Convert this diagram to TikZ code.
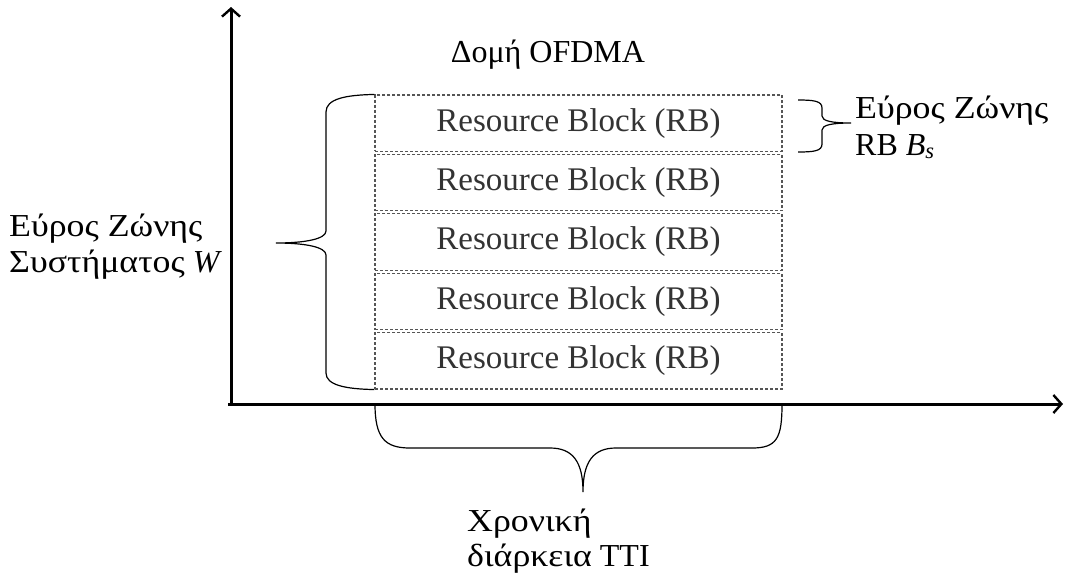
\documentclass[tikz,border=0pt]{standalone}
\usepackage{fontspec}
\setmainfont{Liberation Serif}
\newfontfamily\gr[FakeStretch=1.12]{Liberation Serif}
\usetikzlibrary{arrows.meta}
\definecolor{rbtext}{HTML}{333333}
\definecolor{rbedge}{HTML}{555555}
\begin{document}
\begin{tikzpicture}[x=1pt,y=-1pt,
  rbbox/.style={draw=rbedge, dash pattern=on 3pt off 2pt, line width=1.1pt,
    minimum width=407pt, minimum height=56.4pt, inner sep=0pt,
    font=\fontsize{33}{38}\selectfont, text=rbtext},
  axis/.style={line width=3pt, -{Straight Barb[length=8pt,width=18pt,line width=2.4pt]}},
  brace/.style={line width=1.2pt},
  lbl/.style={font=\fontsize{32}{37}\selectfont, inner sep=0pt}]
\useasboundingbox (0,0) rectangle (1065,576);

% axes
\coordinate (xstart) at (228,404);
\coordinate (xend) at (1063,404);
\coordinate (ystart) at (231,405.5);
\coordinate (yend) at (231,7);
\draw[axis] (xstart) -- (xend);
\draw[axis] (ystart) -- (yend);

% stacked resource blocks
\foreach \i in {1,...,5} {
  \node[rbbox] (rb\i) at (578.5, {123.2+(\i-1)*59.4}) {Resource Block (RB)};
}

% title
\node[lbl, anchor=base] (title) at (548,62) {Δομή OFDMA};

% system bandwidth brace
\draw[brace] (rb1.north west) .. controls (345,95) and (326,99) .. (326,112)
  -- (326,231) .. controls (326,239) and (305,243) .. (276,243)
  .. controls (305,243) and (326,247) .. (326,255)
  -- (326,373) .. controls (326,385) and (345,389) .. (rb5.south west);
\node[lbl, anchor=base west] (wl1) at (9,236) {\gr Εύρος Ζώνης};
\node[lbl, anchor=base west] (wl2) at (9,272) {{\gr Συστήματος} \textit{W}};

% RB bandwidth brace
\coordinate (bs1) at (798,100);
\coordinate (bs2) at (798,152);
\draw[brace] (bs1) .. controls (814,100) and (822,101) .. (822,108)
  -- (822,116) .. controls (822,121) and (832,123) .. (851,123)
  .. controls (832,123) and (822,125) .. (822,130)
  -- (822,144) .. controls (822,151) and (814,152) .. (bs2);
\node[lbl, anchor=base west] (bl1) at (855,118) {\gr Εύρος Ζώνης};
\node[lbl, anchor=base west] (bl2) at (855,155) {RB \textit{B}\textsubscript{\textit{s}}};

% TTI brace
\coordinate (t1) at (375,404);
\coordinate (t2) at (782,404);
\draw[brace] (t1) .. controls (375,438) and (385,448) .. (410,448)
  -- (550,448) .. controls (573,448) and (583,462) .. (583,492)
  .. controls (583,462) and (593,448) .. (616,448)
  -- (752,448) .. controls (777,448) and (782,438) .. (t2);
\node[lbl, anchor=base west] (tl1) at (467,531) {\gr Χρονική};
\node[lbl, anchor=base west] (tl2) at (467,566) {{\gr διάρκεια} TTI};
\end{tikzpicture}
\end{document}
